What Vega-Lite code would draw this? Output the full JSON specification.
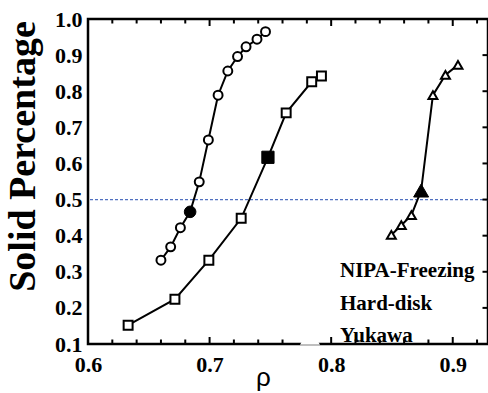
{
  "$schema": "https://vega.github.io/schema/vega-lite/v6.json",
  "width": 400,
  "height": 325,
  "autosize": "none",
  "padding": {"left": 88, "top": 19, "right": 0, "bottom": 49},
  "background": "white",
  "config": {
    "view": {"stroke": "black", "strokeWidth": 2.5},
    "axis": {"grid": false, "domain": false, "labelColor": "black", "titleColor": "black"}
  },
  "datasets": {
    "pts": [
      {"series": "NIPA-Freezing", "rho": 0.633, "sp": 0.152, "filled": false},
      {"series": "NIPA-Freezing", "rho": 0.6715, "sp": 0.224, "filled": false},
      {"series": "NIPA-Freezing", "rho": 0.6994, "sp": 0.332, "filled": false},
      {"series": "NIPA-Freezing", "rho": 0.726, "sp": 0.448, "filled": false},
      {"series": "NIPA-Freezing", "rho": 0.748, "sp": 0.617, "filled": true},
      {"series": "NIPA-Freezing", "rho": 0.763, "sp": 0.74, "filled": false},
      {"series": "NIPA-Freezing", "rho": 0.784, "sp": 0.826, "filled": false},
      {"series": "NIPA-Freezing", "rho": 0.792, "sp": 0.842, "filled": false},
      {"series": "Hard-disk", "rho": 0.66, "sp": 0.332, "filled": false},
      {"series": "Hard-disk", "rho": 0.668, "sp": 0.369, "filled": false},
      {"series": "Hard-disk", "rho": 0.676, "sp": 0.422, "filled": false},
      {"series": "Hard-disk", "rho": 0.684, "sp": 0.466, "filled": true},
      {"series": "Hard-disk", "rho": 0.6915, "sp": 0.549, "filled": false},
      {"series": "Hard-disk", "rho": 0.699, "sp": 0.665, "filled": false},
      {"series": "Hard-disk", "rho": 0.707, "sp": 0.789, "filled": false},
      {"series": "Hard-disk", "rho": 0.715, "sp": 0.856, "filled": false},
      {"series": "Hard-disk", "rho": 0.723, "sp": 0.896, "filled": false},
      {"series": "Hard-disk", "rho": 0.73, "sp": 0.923, "filled": false},
      {"series": "Hard-disk", "rho": 0.739, "sp": 0.944, "filled": false},
      {"series": "Hard-disk", "rho": 0.746, "sp": 0.965, "filled": false},
      {"series": "Yukawa", "rho": 0.8495, "sp": 0.402, "filled": false},
      {"series": "Yukawa", "rho": 0.8577, "sp": 0.429, "filled": false},
      {"series": "Yukawa", "rho": 0.866, "sp": 0.457, "filled": false},
      {"series": "Yukawa", "rho": 0.874, "sp": 0.525, "filled": true},
      {"series": "Yukawa", "rho": 0.8837, "sp": 0.789, "filled": false},
      {"series": "Yukawa", "rho": 0.894, "sp": 0.845, "filled": false},
      {"series": "Yukawa", "rho": 0.9043, "sp": 0.873, "filled": false}
    ],
    "xticks": [
      {"v": 0.62, "major": false}, {"v": 0.64, "major": false}, {"v": 0.66, "major": false}, {"v": 0.68, "major": false},
      {"v": 0.7, "major": true}, {"v": 0.72, "major": false}, {"v": 0.74, "major": false}, {"v": 0.76, "major": false},
      {"v": 0.78, "major": false}, {"v": 0.8, "major": true}, {"v": 0.82, "major": false}, {"v": 0.84, "major": false},
      {"v": 0.86, "major": false}, {"v": 0.88, "major": false}, {"v": 0.9, "major": true}, {"v": 0.92, "major": false}
    ],
    "yticks": [
      {"v": 0.2}, {"v": 0.3}, {"v": 0.4}, {"v": 0.5}, {"v": 0.6}, {"v": 0.7}, {"v": 0.8}, {"v": 0.9}
    ]
  },
  "data": {"name": "pts"},
  "layer": [
    {
      "data": {"values": [{"level": 0.5}]},
      "mark": {"type": "rule", "color": "#5070c0", "strokeDash": [3, 2], "strokeWidth": 1.2},
      "encoding": {
        "y": {"field": "level", "type": "quantitative", "scale": {"domain": [0.1, 1.0], "nice": false, "zero": false}, "axis": null}
      }
    },
    {
      "data": {"name": "xticks"},
      "mark": {"type": "tick", "orient": "vertical", "clip": true, "color": "black", "thickness": 2, "opacity": 1},
      "encoding": {
        "x": {"field": "v", "type": "quantitative", "scale": {"domain": [0.6, 0.929], "nice": false, "zero": false}, "axis": null},
        "y": {"datum": 0.1, "type": "quantitative", "axis": null},
        "size": {"condition": {"test": "datum.major", "value": 14}, "value": 9}
      }
    },
    {
      "data": {"name": "xticks"},
      "mark": {"type": "tick", "orient": "vertical", "clip": true, "color": "black", "thickness": 2, "opacity": 1},
      "encoding": {
        "x": {"field": "v", "type": "quantitative", "axis": null},
        "y": {"datum": 1.0, "type": "quantitative", "axis": null},
        "size": {"condition": {"test": "datum.major", "value": 14}, "value": 9}
      }
    },
    {
      "data": {"name": "yticks"},
      "mark": {"type": "tick", "orient": "horizontal", "clip": true, "color": "black", "thickness": 2, "opacity": 1, "size": 11},
      "encoding": {
        "x": {"datum": 0.929, "type": "quantitative", "axis": null},
        "y": {"field": "v", "type": "quantitative", "axis": null}
      }
    },
    {
      "mark": {"type": "line", "color": "black", "strokeWidth": 2},
      "encoding": {
        "x": {"field": "rho", "type": "quantitative", "scale": {"domain": [0.6, 0.929], "nice": false, "zero": false},
          "axis": {"orient": "bottom", "values": [0.6, 0.7, 0.8, 0.9], "format": ".1f", "ticks": false, "labelFont": "Liberation Serif", "labelFontWeight": "bold", "labelFontSize": 22, "labelPadding": 10, "labelFlush": false, "labelOverlap": false,
            "title": "ρ", "titleFont": "Liberation Sans", "titleFontSize": 26, "titleFontWeight": "normal", "titleX": 175, "titleY": 41, "titleBaseline": "alphabetic", "titleAlign": "center"}},
        "y": {"field": "sp", "type": "quantitative", "scale": {"domain": [0.1, 1.0], "nice": false, "zero": false},
          "axis": {"orient": "left", "values": [0.1, 0.2, 0.3, 0.4, 0.5, 0.6, 0.7, 0.8, 0.9, 1.0], "format": ".1f", "ticks": false, "labelFont": "Liberation Serif", "labelFontWeight": "bold", "labelFontSize": 22, "labelPadding": 6, "labelFlush": false, "labelOverlap": false,
            "title": "Solid Percentage", "titleFont": "Liberation Serif", "titleFontWeight": "bold", "titleFontSize": 38, "titleAngle": 270, "titleX": -54, "titleY": 137, "titleBaseline": "alphabetic", "titleAlign": "center"}},
        "detail": {"field": "series", "type": "nominal"}
      }
    },
    {
      "transform": [{"filter": "!datum.filled"}],
      "mark": {"type": "point", "filled": true, "fill": "white", "stroke": "black", "strokeWidth": 2, "opacity": 1, "size": 80},
      "encoding": {
        "x": {"field": "rho", "type": "quantitative", "axis": null},
        "y": {"field": "sp", "type": "quantitative", "axis": null},
        "shape": {"field": "series", "type": "nominal", "scale": {"domain": ["NIPA-Freezing", "Hard-disk", "Yukawa"], "range": ["square", "circle", "triangle-up"]},
          "legend": {"orient": "none", "legendX": 211, "legendY": 241, "title": null,
            "labelFont": "Liberation Serif", "labelFontWeight": "bold", "labelFontSize": 21, "labelColor": "black",
            "symbolSize": 400, "symbolFillColor": "white", "symbolStrokeColor": "black", "symbolStrokeWidth": 2, "symbolOpacity": 1,
            "labelOffset": 19, "rowPadding": 5,
            "encode": {"symbols": {
              "shape": {"condition": [
                {"test": "datum.value === 'NIPA-Freezing'", "value": "M-2.4,0L-0.5,0M0.5,0L2.4,0M-0.5,-0.5L0.5,-0.5L0.5,0.5L-0.5,0.5Z"},
                {"test": "datum.value === 'Hard-disk'", "value": "M-2.4,0L-0.45,0M0.45,0L2.4,0M-0.45,0A0.45,0.45 0 1,1 0.45,0A0.45,0.45 0 1,1 -0.45,0Z"}],
                "value": "M-2.4,0.15L-0.42,0.15M0.42,0.15L2.4,0.15M0,-0.55L0.6,0.45L-0.6,0.45Z"},
              "size": {"value": 400},
              "fill": {"value": "white"},
              "stroke": {"value": "black"},
              "strokeWidth": {"value": 2}
            }}}}
      }
    },
    {
      "transform": [{"filter": "datum.filled && datum.series === 'NIPA-Freezing'"}],
      "mark": {"type": "point", "shape": "square", "filled": true, "fill": "black", "stroke": "black", "strokeWidth": 1, "opacity": 1, "size": 150},
      "encoding": {
        "x": {"field": "rho", "type": "quantitative", "axis": null},
        "y": {"field": "sp", "type": "quantitative", "axis": null}
      }
    },
    {
      "transform": [{"filter": "datum.filled && datum.series === 'Hard-disk'"}],
      "mark": {"type": "point", "shape": "circle", "filled": true, "fill": "black", "stroke": "black", "strokeWidth": 1, "opacity": 1, "size": 135},
      "encoding": {
        "x": {"field": "rho", "type": "quantitative", "axis": null},
        "y": {"field": "sp", "type": "quantitative", "axis": null}
      }
    },
    {
      "transform": [{"filter": "datum.filled && datum.series === 'Yukawa'"}],
      "mark": {"type": "point", "shape": "triangle-up", "filled": true, "fill": "black", "stroke": "black", "strokeWidth": 1, "opacity": 1, "size": 225},
      "encoding": {
        "x": {"field": "rho", "type": "quantitative", "axis": null},
        "y": {"field": "sp", "type": "quantitative", "axis": null}
      }
    }
  ],
  "resolve": {"axis": {"x": "independent", "y": "independent"}}
}
